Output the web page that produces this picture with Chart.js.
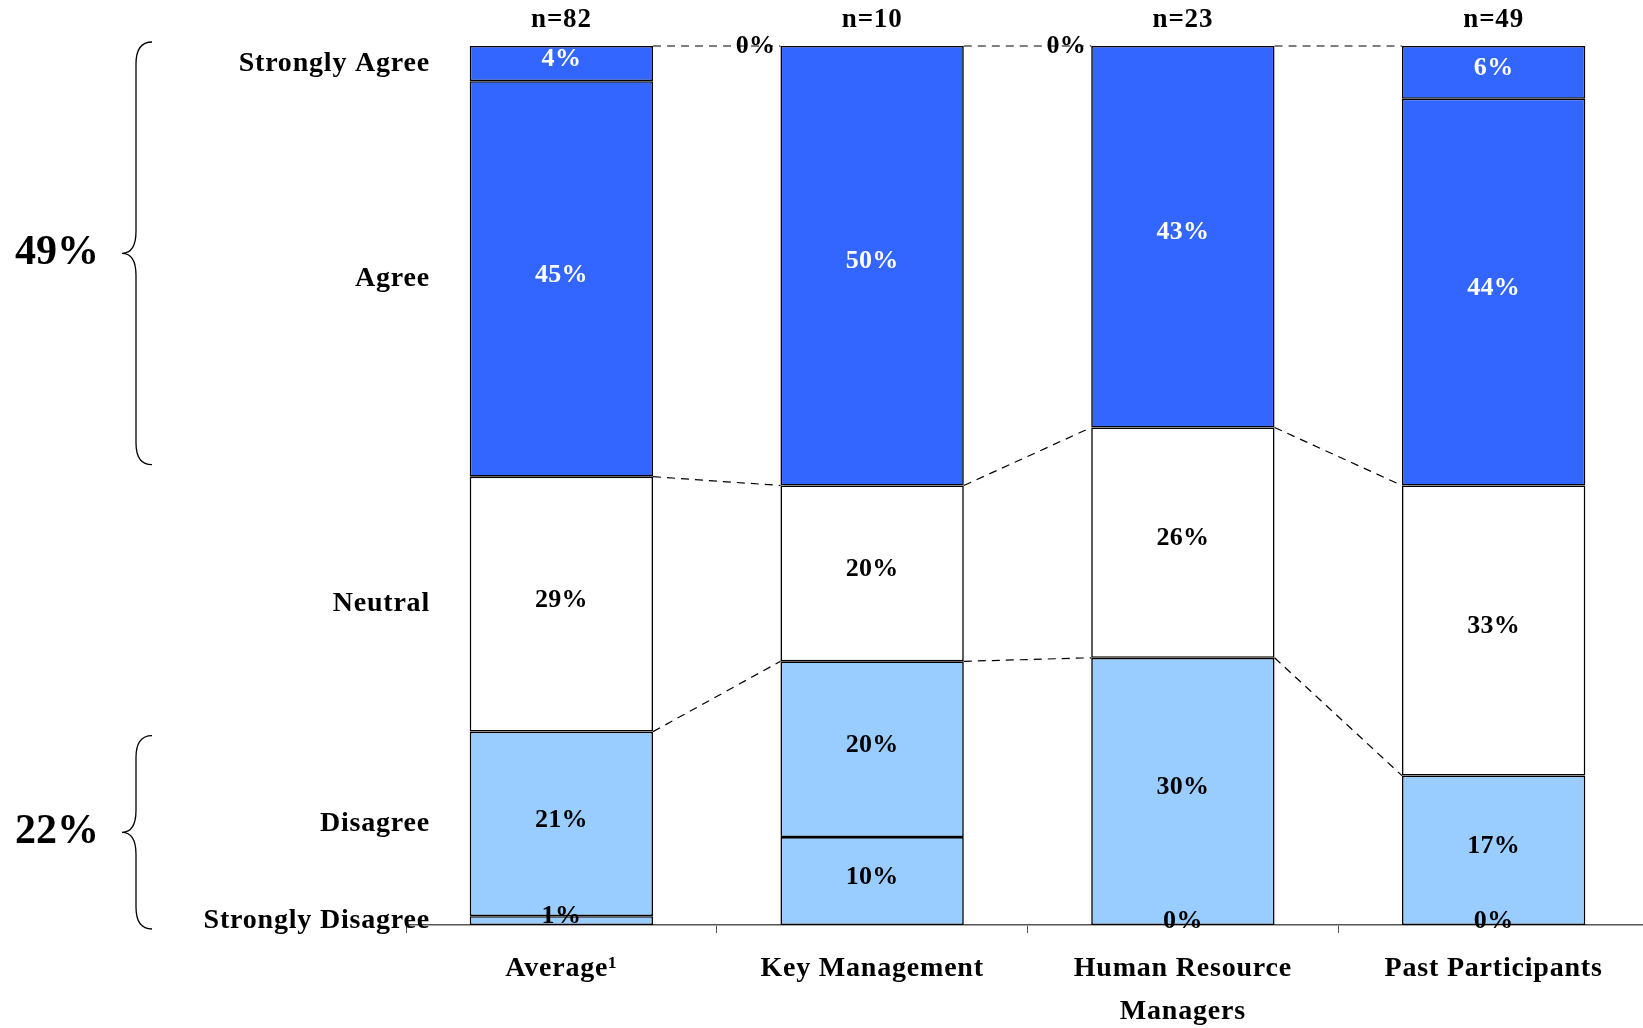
<!DOCTYPE html>
<html>
<head>
<meta charset="utf-8">
<title>Response distribution by group</title>
<script src="https://cdn.jsdelivr.net/npm/chart.js@4/dist/chart.umd.min.js"></script>
<style>
  html, body { margin: 0; padding: 0; background: #fff; overflow: hidden; }
  #wrap { width: 1649px; height: 1028px; position: relative; }
</style>
</head>
<body>
<div id="wrap"><canvas id="chart"></canvas></div>
<script>
// Groups shown along the x axis
const categories = [['Average¹'], ['Key Management'], ['Human Resource', 'Managers'], ['Past Participants']];
const sampleSizes = ['n=82', 'n=10', 'n=23', 'n=49'];

// Response scale, bottom of the stack first
const responseLabels = ['Strongly Disagree', 'Disagree', 'Neutral', 'Agree', 'Strongly Agree'];

// Share of respondents (%) per group
const stronglyDisagree = [1, 10, 0, 0];
const disagree         = [21, 20, 30.4, 17];
const neutral          = [29, 20, 26.2, 33];
const agree            = [45, 50, 43.4, 44];
const stronglyAgree    = [4, 0, 0, 6];

// Left-hand tick labels (one per response level)
const yTickLabels = ['Strongly Disagree', 'Disagree', 'Neutral', 'Agree', 'Strongly Agree'];

const seriesValues = [stronglyDisagree, disagree, neutral, agree, stronglyAgree];
const segmentColors = ['#99CCFF', '#99CCFF', '#FFFFFF', '#3366FF', '#3366FF'];
const labelColors = ['#000000', '#000000', '#000000', '#FFFFFF', '#FFFFFF'];

const FAMILY = '"Liberation Serif", "Times New Roman", serif';
const SPACING = '0.8px';

// Tick positions on the left axis: middle of each segment of the first (Average) bar
function segmentMidpoints(col) {
  const mids = [];
  let acc = 0;
  seriesValues.forEach(s => { mids.push(acc + s[col] / 2); acc += s[col]; });
  return mids;
}
const yTickValues = segmentMidpoints(0);

// Bracketed totals for the Average bar
const agreeTotal = stronglyAgree[0] + agree[0];
const disagreeTotal = stronglyDisagree[0] + disagree[0];

function cumulative(col, upto) {
  let acc = 0;
  for (let i = 0; i <= upto; i++) acc += seriesValues[i][col];
  return acc;
}

function drawBrace(ctx, tipX, spineX, pointX, top, bottom) {
  const mid = (top + bottom) / 2;
  const r = 22;
  ctx.beginPath();
  ctx.moveTo(tipX, top);
  ctx.quadraticCurveTo(spineX, top, spineX, top + r);
  ctx.lineTo(spineX, mid - r);
  ctx.quadraticCurveTo(spineX, mid, pointX, mid);
  ctx.quadraticCurveTo(spineX, mid, spineX, mid + r);
  ctx.lineTo(spineX, bottom - r);
  ctx.quadraticCurveTo(spineX, bottom, tipX, bottom);
  ctx.stroke();
}

const annotations = {
  id: 'annotations',
  beforeUpdate(chart) { chart.ctx.letterSpacing = SPACING; },
  beforeDraw(chart) { chart.ctx.letterSpacing = SPACING; },
  afterDatasetsDraw(chart) {
    const { ctx, scales: { y } } = chart;
    const metas = chart.data.datasets.map((d, i) => chart.getDatasetMeta(i));
    const lastSet = seriesValues.length - 1;
    ctx.save();

    // Dashed connectors between neighbouring bars
    ctx.setLineDash([8, 6]);
    ctx.lineWidth = 1.2;
    ctx.strokeStyle = '#000';
    const levels = [1, 2, lastSet];
    for (let j = 0; j < categories.length - 1; j++) {
      const a = metas[0].data[j], b = metas[0].data[j + 1];
      const x1 = a.x + a.width / 2, x2 = b.x - b.width / 2;
      levels.forEach(lv => {
        ctx.beginPath();
        ctx.moveTo(x1, y.getPixelForValue(cumulative(j, lv)));
        ctx.lineTo(x2, y.getPixelForValue(cumulative(j + 1, lv)));
        ctx.stroke();
      });
    }
    ctx.setLineDash([]);

    // Value labels
    ctx.letterSpacing = '0.3px';
    ctx.font = 'bold 26px ' + FAMILY;
    ctx.textAlign = 'center';
    ctx.textBaseline = 'middle';
    chart.data.datasets.forEach((ds, i) => {
      metas[i].data.forEach((el, j) => {
        const v = ds.data[j];
        let px = el.x;
        let py = (el.y + el.base) / 2 - 4;
        let color = labelColors[i];
        if (v === 0) {
          color = '#000';
          if (i === lastSet) { px = el.x - el.width / 2 - 25; py = el.y; }
          else { py = el.base - 4; }
        }
        ctx.fillStyle = color;
        ctx.fillText(Math.round(v) + '%', px, py);
      });
    });

    // Sample sizes above the bars
    ctx.letterSpacing = SPACING;
    ctx.font = 'bold 27px ' + FAMILY;
    ctx.fillStyle = '#000';
    metas[0].data.forEach((el, j) => {
      ctx.fillText(sampleSizes[j], el.x, chart.chartArea.top - 26);
    });

    // Braces with group totals
    ctx.lineWidth = 1.3;
    ctx.strokeStyle = '#000';
    const topA = y.getPixelForValue(100) - 4;
    const botA = y.getPixelForValue(100 - agreeTotal) - 12;
    const topD = y.getPixelForValue(disagreeTotal) + 4;
    const botD = y.getPixelForValue(0) + 4;
    drawBrace(ctx, 152, 136, 122, topA, botA);
    drawBrace(ctx, 152, 136, 122, topD, botD);
    ctx.font = 'bold 42px ' + FAMILY;
    ctx.letterSpacing = '0px';
    ctx.fillText(agreeTotal + '%', 57, (topA + botA) / 2);
    ctx.fillText(disagreeTotal + '%', 57, (topD + botD) / 2);
    ctx.restore();
  }
};

const tickFont = { family: FAMILY, size: 28, weight: 'bold', lineHeight: 1.55 };

new Chart(document.getElementById('chart'), {
  type: 'bar',
  data: {
    labels: categories,
    datasets: responseLabels.map((lbl, i) => ({
      label: lbl,
      data: seriesValues[i],
      backgroundColor: segmentColors[i],
      borderColor: '#000',
      borderWidth: 1.6,
      borderSkipped: false,
      barPercentage: 0.59,
      categoryPercentage: 1
    }))
  },
  options: {
    responsive: true,
    maintainAspectRatio: false,
    animation: false,
    layout: { padding: { top: 46, left: 0, right: 0, bottom: 0 } },
    plugins: { legend: { display: false }, tooltip: { enabled: false } },
    scales: {
      x: {
        stacked: true,
        grid: { offset: true, drawOnChartArea: false, drawTicks: true, tickLength: 8, color: '#555', lineWidth: 1 },
        border: { display: true, color: '#555', width: 1.5 },
        ticks: { font: tickFont, color: '#000', padding: 14, maxRotation: 0, autoSkip: false },
        afterFit(s) { s.height = 103; }
      },
      y: {
        stacked: true,
        min: 0,
        max: 100,
        grid: { display: false, drawTicks: false },
        border: { display: false },
        ticks: {
          font: { family: FAMILY, size: 28, weight: 'bold' },
          color: '#000',
          padding: -24,
          callback: (v, i) => yTickLabels[i]
        },
        afterBuildTicks(s) { s.ticks = yTickValues.map(v => ({ value: v })); },
        afterFit(s) {
          s.width = 406;
          // labels reach a little past the axis edge, so leave them unclipped
          s._computeLabelArea = () => undefined;
        }
      }
    }
  },
  plugins: [annotations]
});
</script>
</body>
</html>
